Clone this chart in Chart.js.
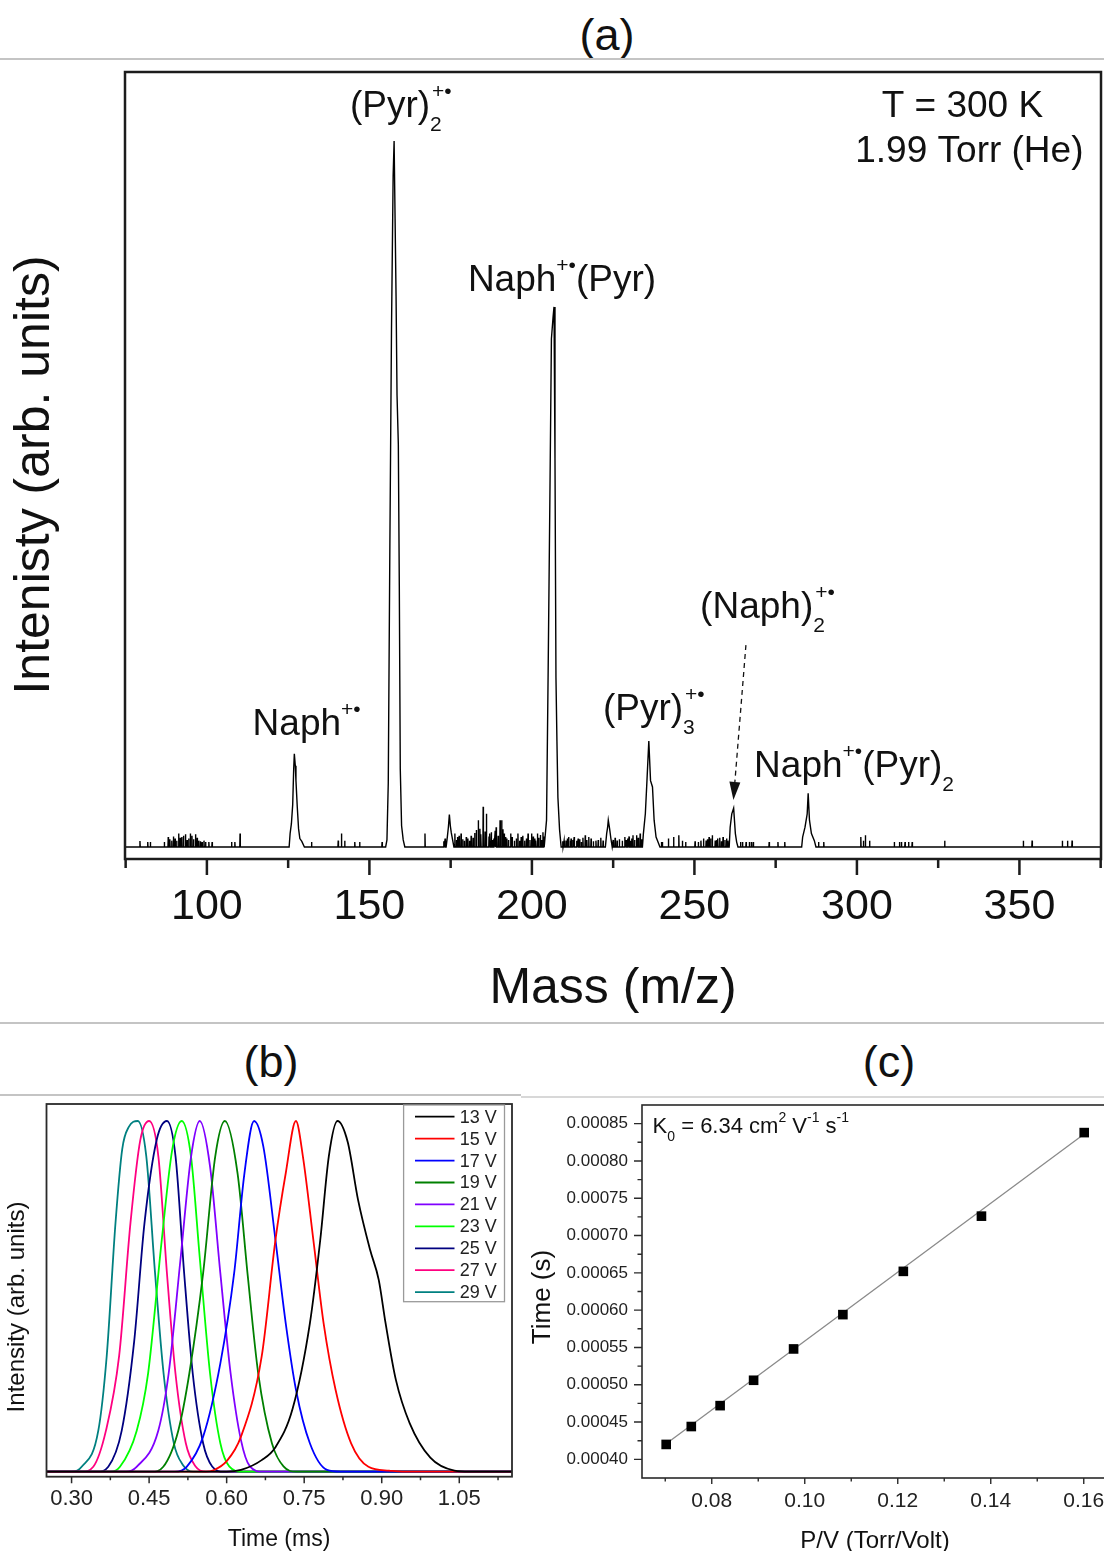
<!DOCTYPE html>
<html><head><meta charset="utf-8">
<script src="https://cdn.jsdelivr.net/npm/chart.js@4.4.0/dist/chart.umd.min.js"></script>
<style>
html,body{margin:0;padding:0;background:#fff;width:1104px;height:1551px;overflow:hidden;position:relative}
.t{position:absolute;font-family:"Liberation Sans",Arial,sans-serif;font-size:45px;line-height:45px;color:#111;transform:translateX(-50%);white-space:nowrap}
.sep{position:absolute;height:1.5px;background:#c4c4c4}
canvas{position:absolute;display:block}
</style></head><body>
<div class="t" style="left:607px;top:12px">(a)</div>
<div class="sep" style="left:0;top:58px;width:1104px"></div>
<div class="sep" style="left:0;top:1022px;width:1104px"></div>
<div class="t" style="left:271px;top:1039px">(b)</div>
<div class="t" style="left:889px;top:1039px">(c)</div>
<div class="sep" style="left:0;top:1094px;width:521px"></div>
<div class="sep" style="left:521px;top:1096px;width:583px;background:#d8d8d8"></div>
<canvas id="cA" width="1104" height="960" style="left:0;top:60px"></canvas>
<canvas id="cB" width="530" height="454" style="left:0;top:1097px"></canvas>
<canvas id="cC" width="590" height="454" style="left:530px;top:1097px"></canvas>
<script>
const FONT = '"Liberation Sans", Arial, sans-serif';
Chart.defaults.font.family = FONT;
Chart.defaults.color = '#111';

// ---------------- Panel (a): mass spectrum ----------------
const massTicks = [100, 150, 200, 250, 300, 350];
const massMinorTicks = [75, 125, 175, 225, 275, 325, 375];
const profileMass = [74.8,
  125.3,125.6,126.0,126.4,126.7,126.9,127.2,127.4,127.8,128.2,128.6,129.2,130.0,
  155.0,155.4,155.8,156.3,156.8,157.3,157.6,157.9,158.2,158.5,158.9,159.2,159.5,159.9,160.4,160.9,
  173.6,174.0,174.3,174.6,174.9,175.2,175.6,176.0,
  204.0,204.5,205.0,205.5,206.0,206.5,206.8,207.1,207.4,207.7,208.0,208.5,209.0,
  222.6,223.0,223.3,223.5,223.9,224.3,224.7,
  234.0,234.3,234.9,235.4,235.97,236.5,237.1,237.6,238.2,238.8,239.4,
  260.7,261.0,261.5,262.07,262.6,263.0,263.4,
  283.0,283.3,284.03,284.7,285.0,285.4,286.0,286.9,287.4,
  375.1];
const profileIntensity = [0,
  0,1.9,3.3,6.0,11.0,13.2,11.5,9.4,5.7,2.6,1.2,0.8,0,
  0,1.0,9.0,43,73.5,95,100,89,78,64,57,37,11,3,1,0,
  0,1.5,2.8,4.6,3.0,2.0,1.0,0,
  0,3.8,25,48,72,75,76.5,55,24,15,7,2.5,0,
  0,1.9,2.8,3.8,2.6,1.2,0,
  0,1.9,4.7,9.4,15.0,9.4,8.5,3.8,1.4,0.7,0,
  0,2.8,4.7,5.5,1.9,0.7,0,
  0,1.4,2.8,4.7,7.6,3.8,1.9,0.9,0,
  0];
const noiseMass = [79.4,81.8,82.6,86.9,88.1,88.6,89.2,89.7,90.2,90.7,91.3,91.8,92.3,92.8,93.4,93.9,94.4,94.9,
  95.4,95.9,96.5,97.0,97.5,98.0,98.5,99.1,99.6,100.6,101.6,
  107.6,108.6,110.2,132.2,140.4,141.4,142.4,145.5,147.0,153.9,167.1,
  172.9,173.3,176.3,176.8,177.1,177.6,178.2,178.7,179.2,179.8,180.3,180.8,181.3,181.9,182.4,182.9,183.5,
  184.0,184.3,185.0,185.6,186.0,186.8,187.1,187.5,187.9,188.3,188.7,189.0,189.6,190.2,190.7,191.1,191.5,
  191.9,192.3,192.8,193.5,193.9,194.6,195.2,195.7,196.2,196.7,197.2,197.8,198.3,198.8,199.4,199.9,200.4,
  200.9,201.2,201.7,202.1,202.6,203.0,203.4,203.7,
  209.5,209.9,210.5,210.9,211.3,211.8,212.06,212.6,213.0,213.8,214.24,214.7,215.2,215.7,216.4,216.9,
  217.5,218.2,218.9,219.7,220.4,221.2,221.9,
  225.0,225.6,226.2,226.9,227.8,228.6,229.0,229.5,229.9,230.3,230.7,231.1,231.6,232.2,232.7,233.3,233.7,
  239.8,240.1,242.0,243.6,245.2,246.3,247.3,250.2,251.2,252.0,252.8,253.6,254.0,254.5,255.0,255.5,256.4,
  256.9,257.2,257.8,258.3,258.8,259.4,259.9,260.3,
  264.2,264.8,265.9,266.9,267.5,268.1,273.0,275.7,277.8,288.2,289.8,301.2,302.0,302.6,303.9,
  311.5,313.1,313.7,314.8,315.9,317.0,327.0,351.2,353.9,363.2,364.8,366.2];
const noiseHeight = [0.85,0.7,0.7,0.7,1.4,1.1,0.9,1.5,1.2,0.9,1.9,1.3,1.4,1.6,1.8,1.0,1.2,1.9,
  1.6,1.1,1.8,1.3,0.9,0.8,0.7,0.9,0.7,0.7,0.7,
  0.7,0.7,1.9,0.7,0.9,1.9,0.9,0.7,0.7,0.7,1.9,
  0.8,1.2,1.9,1.0,1.4,1.6,1.9,1.1,0.9,1.4,1.2,0.9,1.6,1.3,2.0,2.4,3.8,
  2.6,1.8,5.7,2.2,4.7,1.5,1.9,2.1,1.0,1.2,2.3,2.8,1.6,3.8,3.8,2.5,1.9,
  1.4,1.2,1.0,1.9,1.4,0.9,1.2,1.9,0.9,1.4,1.6,0.9,1.2,1.9,1.0,1.9,1.5,
  1.2,0.9,1.9,1.3,1.7,1.0,2.1,1.5,
  0.8,0.9,0.9,1.2,1.4,0.9,1.2,1.0,1.4,0.9,1.2,1.1,0.7,1.3,1.65,1.0,
  1.4,1.2,0.8,0.9,1.0,1.3,0.9,
  1.0,1.3,0.9,1.1,0.9,1.4,1.0,1.2,1.5,0.9,1.2,1.65,1.0,1.65,1.3,1.9,1.1,
  0.7,0.7,1.2,1.4,1.65,0.9,0.7,0.8,0.7,0.9,1.2,0.9,1.1,1.4,1.2,1.65,0.9,
  1.0,1.2,1.3,0.8,1.4,1.0,1.2,0.9,
  0.7,0.7,0.7,0.7,0.7,0.7,0.7,0.7,0.7,0.7,0.7,1.4,0.9,1.65,0.9,
  0.7,0.7,0.7,0.7,0.7,0.7,0.9,0.9,0.9,0.9,0.9,0.9];

const peakLabels = [
  {m:144.0, i:103.4, parts:[{t:'(Pyr)'},{sub:'2',sup:'+•'}]},
  {m:180.3, i:78.7, parts:[{t:'Naph'},{sup:'+•'},{t:'(Pyr)'}]},
  {m:114.06, i:15.86, parts:[{t:'Naph'},{sup:'+•'}]},
  {m:221.85, i:18.0, parts:[{t:'(Pyr)'},{sub:'3',sup:'+•'}]},
  {m:251.75, i:32.4, parts:[{t:'(Naph)'},{sub:'2',sup:'+•'}]},
  {m:268.37, i:9.96, parts:[{t:'Naph'},{sup:'+•'},{t:'(Pyr)'},{sub:'2'}]}
];
const conditionLabels = [
  {m:332.46, i:103.4, text:'T = 300 K'},
  {m:334.6, i:97.07, text:'1.99 Torr (He)'}
];
const arrowFrom = [265.85, 28.6];
const arrowTo = [262.0, 6.66];

// ---------------- Panel (b): arrival time distributions ----------------
const voltages = [13, 15, 17, 19, 21, 23, 25, 27, 29];
const voltageColors = ['#000000','#ff0000','#0000ff','#008000','#8000ff','#00ff00','#000080','#ff0080','#008080'];
const timeTicks = [0.30, 0.45, 0.60, 0.75, 0.90, 1.05];
const timeMinorTicks = [0.375, 0.525, 0.675, 0.825, 0.975, 1.125];
const t13 = [0.2515,0.600,0.6277,0.6677,0.6944,0.7277,0.761,0.781,0.7977,0.8143,0.8342,0.8542,0.8776,0.8942,0.9075,0.9275,0.9542,0.994,1.0407,1.07,1.152];
const i13 = [0,0,0.005,0.033,0.07,0.18,0.423,0.66,0.90,1,0.94,0.775,0.632,0.547,0.423,0.261,0.138,0.04,0.003,0,0];
const t15 = [0.2515,0.56,0.5745,0.60,0.6277,0.6677,0.6944,0.7143,0.734,0.7476,0.7677,0.7876,0.8108,0.8408,0.8743,0.9141,0.94,1.152];
const i15 = [0,0,0.004,0.03,0.1,0.328,0.661,0.851,1,0.898,0.661,0.423,0.233,0.081,0.014,0.003,0,0];
const t17 = [0.2515,0.50,0.5226,0.5545,0.5878,0.6145,0.6344,0.653,0.671,0.6944,0.7143,0.7342,0.761,0.7942,0.82,1.152];
const i17 = [0,0,0.014,0.10,0.309,0.566,0.851,1,0.927,0.661,0.423,0.233,0.081,0.005,0,0];
const t19 = [0.2515,0.455,0.4774,0.5064,0.5278,0.5545,0.5778,0.5965,0.6211,0.641,0.6611,0.6876,0.71,0.735,1.152];
const i19 = [0,0,0.014,0.117,0.28,0.566,0.898,1,0.851,0.556,0.28,0.081,0.015,0,0];
const t21 = [0.2515,0.405,0.4258,0.4677,0.4878,0.5112,0.5311,0.548,0.5679,0.5878,0.6077,0.6277,0.645,0.67,1.152];
const i21 = [0,0,0.014,0.117,0.28,0.613,0.898,1,0.87,0.566,0.28,0.09,0.015,0,0];
const t23 = [0.2515,0.375,0.3936,0.426,0.448,0.4745,0.4946,0.513,0.5311,0.5478,0.5679,0.5878,0.605,0.63,1.152];
const i23 = [0,0,0.014,0.117,0.28,0.661,0.917,1,0.898,0.613,0.28,0.081,0.015,0,0];
const t25 = [0.2515,0.35,0.371,0.397,0.421,0.441,0.4646,0.4845,0.5012,0.5178,0.5344,0.5545,0.572,0.595,1.152];
const i25 = [0,0,0.014,0.117,0.37,0.708,0.946,1,0.898,0.566,0.28,0.081,0.015,0,0];
const t27 = [0.2515,0.32,0.342,0.3665,0.392,0.414,0.433,0.450,0.468,0.4845,0.501,0.521,0.54,0.56,1.152];
const i27 = [0,0,0.014,0.117,0.33,0.71,0.946,1,0.898,0.566,0.28,0.081,0.015,0,0];
const t29 = [0.2515,0.30,0.3195,0.3517,0.368,0.385,0.398,0.411,0.428,0.4445,0.4613,0.478,0.498,0.515,0.535,1.152];
const i29 = [0,0,0.014,0.117,0.33,0.71,0.92,0.984,1,0.90,0.57,0.28,0.08,0.02,0,0];

// ---------------- Panel (c): drift time vs P/V ----------------
const pvValues = [0.0702, 0.0756, 0.0818, 0.0890, 0.0976, 0.1082, 0.1212, 0.1380, 0.1601];
const driftTimes = [0.000420, 0.000444, 0.000472, 0.000506, 0.000548, 0.000594, 0.000652, 0.000726, 0.000838];
const fitPV = [0.0702, 0.1601];
const fitTime = [0.000421, 0.000836];
const pvTicks = [0.08, 0.10, 0.12, 0.14, 0.16];
const pvMinorTicks = [0.07, 0.09, 0.11, 0.13, 0.15];
const driftTicks = [0.0004,0.00045,0.0005,0.00055,0.0006,0.00065,0.0007,0.00075,0.0008,0.00085];
const driftMinorTicks = [0.000425,0.000475,0.000525,0.000575,0.000625,0.000675,0.000725,0.000775,0.000825];

// ---------------- helpers ----------------
function richWidth(ctx, parts, o) {
  let w = 0;
  for (const p of parts) {
    if (p.t !== undefined) { ctx.font = o.size + 'px ' + FONT; w += ctx.measureText(p.t).width; }
    else {
      ctx.font = o.small + 'px ' + FONT;
      const ws = p.sub ? ctx.measureText(p.sub).width : 0;
      const wp = p.sup ? ctx.measureText(p.sup).width + (p.sub ? o.supShift : 0) : 0;
      w += Math.max(ws, wp);
    }
  }
  return w;
}
function richText(ctx, x, y, parts, o) {
  let cx = o.align === 'center' ? x - richWidth(ctx, parts, o) / 2 : x;
  ctx.textAlign = 'left'; ctx.textBaseline = 'alphabetic';
  for (const p of parts) {
    if (p.t !== undefined) {
      ctx.font = o.size + 'px ' + FONT; ctx.fillText(p.t, cx, y); cx += ctx.measureText(p.t).width;
    } else {
      ctx.font = o.small + 'px ' + FONT;
      let w = 0;
      if (p.sub) { ctx.fillText(p.sub, cx, y + o.subDy); w = ctx.measureText(p.sub).width; }
      if (p.sup) { const sx = cx + (p.sub ? o.supShift : 0); ctx.fillText(p.sup, sx, y + o.supDy); w = Math.max(w, sx - cx + ctx.measureText(p.sup).width); }
      cx += w;
    }
  }
}
function tickMarks(ctx, scale, values, fixed, len, horizontal) {
  ctx.beginPath();
  values.forEach(v => {
    const p = scale.getPixelForValue(v);
    if (horizontal) { ctx.moveTo(p, fixed); ctx.lineTo(p, fixed + len); }
    else { ctx.moveTo(fixed, p); ctx.lineTo(fixed - len, p); }
  });
  ctx.stroke();
}
const pts = (xs, ys) => xs.map((v, k) => ({x: v, y: ys[k]}));
const noEdgePadding = s => { s.paddingTop = 0; s.paddingBottom = 0; s.paddingLeft = 0; s.paddingRight = 0; };

// ---------------- Chart (a) ----------------
const spectrum = pts(profileMass, profileIntensity);
noiseMass.forEach((m, k) => { spectrum.push({x: m - 0.08, y: 0}, {x: m, y: noiseHeight[k]}, {x: m + 0.08, y: 0}); });
spectrum.sort((p, q) => p.x - q.x);

const overlayA = {
  id: 'overlayA',
  afterDraw(chart) {
    const {ctx, chartArea: a, scales: {x, y}} = chart;
    ctx.save();
    ctx.strokeStyle = '#1c1c1c'; ctx.lineWidth = 2.5;
    ctx.strokeRect(a.left, a.top, a.right - a.left, a.bottom - a.top);
    tickMarks(ctx, x, massTicks, a.bottom, 16, true);
    tickMarks(ctx, x, massMinorTicks, a.bottom, 9, true);
    ctx.fillStyle = '#111';
    ctx.font = '50px ' + FONT; ctx.textAlign = 'center'; ctx.textBaseline = 'alphabetic';
    ctx.fillText('Mass (m/z)', (a.left + a.right) / 2, a.bottom + 144);
    ctx.save(); ctx.translate(35, 415); ctx.rotate(-Math.PI / 2); ctx.textBaseline = 'middle';
    ctx.fillText('Intenisty (arb. units)', 0, 0); ctx.restore();
    const o = {size: 37, small: 21, subDy: 14, supDy: -19, supShift: 2};
    peakLabels.forEach(l => richText(ctx, x.getPixelForValue(l.m), y.getPixelForValue(l.i), l.parts, o));
    ctx.font = '37px ' + FONT; ctx.textAlign = 'center'; ctx.textBaseline = 'alphabetic';
    conditionLabels.forEach(l => ctx.fillText(l.text, x.getPixelForValue(l.m), y.getPixelForValue(l.i)));
    // dashed arrow
    const x1 = x.getPixelForValue(arrowFrom[0]), y1 = y.getPixelForValue(arrowFrom[1]);
    const x2 = x.getPixelForValue(arrowTo[0]), y2 = y.getPixelForValue(arrowTo[1]);
    const ang = Math.atan2(y2 - y1, x2 - x1), hl = 18, hw = 5.5;
    const bx = x2 - hl * Math.cos(ang), by = y2 - hl * Math.sin(ang);
    ctx.strokeStyle = '#111'; ctx.lineWidth = 1.3; ctx.setLineDash([5, 4]);
    ctx.beginPath(); ctx.moveTo(x1, y1); ctx.lineTo(bx, by); ctx.stroke(); ctx.setLineDash([]);
    ctx.fillStyle = '#111'; ctx.beginPath(); ctx.moveTo(x2, y2);
    ctx.lineTo(bx + hw * Math.sin(ang), by - hw * Math.cos(ang));
    ctx.lineTo(bx - hw * Math.sin(ang), by + hw * Math.cos(ang)); ctx.closePath(); ctx.fill();
    ctx.restore();
  }
};

new Chart(document.getElementById('cA'), {
  type: 'line',
  data: {datasets: [{data: spectrum, borderColor: '#000', borderWidth: 1.4, pointRadius: 0, tension: 0, fill: false}]},
  options: {
    responsive: false, animation: false, events: [], devicePixelRatio: 1,
    layout: {padding: {top: 12, right: 3, left: 0, bottom: 0}},
    plugins: {legend: {display: false}, tooltip: {enabled: false}},
    scales: {
      x: {type: 'linear', min: 74.8, max: 375.1,
        grid: {display: false, drawTicks: false}, border: {display: false},
        afterBuildTicks: s => { s.ticks = massTicks.map(v => ({value: v})); },
        ticks: {font: {size: 43}, color: '#111', padding: 22, maxRotation: 0, autoSkip: false},
        afterFit: s => { s.height = 161; noEdgePadding(s); }},
      y: {type: 'linear', min: -1.70, max: 109.77,
        grid: {display: false, drawTicks: false}, border: {display: false}, ticks: {display: false},
        afterFit: s => { s.width = 125; noEdgePadding(s); }}
    }
  },
  plugins: [overlayA]
});

// ---------------- Chart (b) ----------------
const timeSeries = [[t13,i13],[t15,i15],[t17,i17],[t19,i19],[t21,i21],[t23,i23],[t25,i25],[t27,i27],[t29,i29]];
const overlayB = {
  id: 'overlayB',
  afterDraw(chart) {
    const {ctx, chartArea: a, scales: {x}} = chart;
    ctx.save();
    ctx.strokeStyle = '#2a2a2a'; ctx.lineWidth = 1.8;
    ctx.strokeRect(a.left, a.top, a.right - a.left, a.bottom - a.top);
    ctx.lineWidth = 1.5;
    tickMarks(ctx, x, timeTicks, a.bottom, 6.5, true);
    tickMarks(ctx, x, timeMinorTicks, a.bottom, 3.5, true);
    // legend
    ctx.strokeStyle = '#9a9a9a'; ctx.lineWidth = 1.3;
    ctx.strokeRect(a.right - 108.4, a.top + 1, 100.9, 196.7);
    ctx.font = '18px ' + FONT; ctx.textAlign = 'left'; ctx.textBaseline = 'middle';
    chart.data.datasets.forEach((d, k) => {
      const yy = a.top + 12.7 + k * 21.93;
      ctx.strokeStyle = d.borderColor; ctx.lineWidth = 1.8;
      ctx.beginPath(); ctx.moveTo(a.right - 97, yy); ctx.lineTo(a.right - 57.5, yy); ctx.stroke();
      ctx.fillStyle = '#222'; ctx.fillText(d.label, a.right - 52.3, yy + 1);
    });
    ctx.fillStyle = '#111'; ctx.textAlign = 'center'; ctx.textBaseline = 'alphabetic';
    ctx.font = '23px ' + FONT; ctx.fillText('Time (ms)', 279, 449);
    ctx.save(); ctx.translate(17, 210); ctx.rotate(-Math.PI / 2); ctx.textBaseline = 'middle';
    ctx.font = '24px ' + FONT; ctx.fillText('Intensity (arb. units)', 0, 0); ctx.restore();
    ctx.restore();
  }
};
new Chart(document.getElementById('cB'), {
  type: 'line',
  data: {datasets: voltages.map((v, k) => ({
    label: v + ' V', data: pts(timeSeries[k][0], timeSeries[k][1]),
    borderColor: voltageColors[k], borderWidth: 1.8, pointRadius: 0,
    cubicInterpolationMode: 'monotone', fill: false}))},
  options: {
    responsive: false, animation: false, events: [], devicePixelRatio: 1,
    layout: {padding: {top: 7, right: 18, left: 0, bottom: 0}},
    plugins: {legend: {display: false}, tooltip: {enabled: false}},
    scales: {
      x: {type: 'linear', min: 0.2515, max: 1.152,
        grid: {display: false, drawTicks: false}, border: {display: false},
        afterBuildTicks: s => { s.ticks = timeTicks.map(v => ({value: v})); },
        ticks: {font: {size: 22}, color: '#222', padding: 9, maxRotation: 0, autoSkip: false, callback: v => Number(v).toFixed(2)},
        afterFit: s => { s.height = 74.3; noEdgePadding(s); }},
      y: {type: 'linear', min: -0.01426, max: 1.0485,
        grid: {display: false, drawTicks: false}, border: {display: false}, ticks: {display: false},
        afterFit: s => { s.width = 46.5; noEdgePadding(s); }}
    }
  },
  plugins: [overlayB]
});

// ---------------- Chart (c) ----------------
const overlayC = {
  id: 'overlayC',
  afterDraw(chart) {
    const {ctx, chartArea: a, scales: {x, y}} = chart;
    ctx.save();
    ctx.strokeStyle = '#2a2a2a'; ctx.lineWidth = 1.6;
    ctx.strokeRect(a.left, a.top, a.right - a.left, a.bottom - a.top);
    ctx.lineWidth = 1.4;
    tickMarks(ctx, x, pvTicks, a.bottom, 6, true);
    tickMarks(ctx, x, pvMinorTicks, a.bottom, 3.5, true);
    tickMarks(ctx, y, driftTicks, a.left, 8, false);
    tickMarks(ctx, y, driftMinorTicks, a.left, 4.5, false);
    ctx.fillStyle = '#111';
    richText(ctx, x.getPixelForValue(0.06728), y.getPixelForValue(0.000837),
      [{t:'K'},{sub:'0'},{t:' = 6.34 cm'},{sup:'2'},{t:' V'},{sup:'-1'},{t:' s'},{sup:'-1'}],
      {size: 22, small: 14, subDy: 8, supDy: -11, supShift: 0});
    ctx.textAlign = 'center'; ctx.textBaseline = 'alphabetic';
    ctx.font = '24px ' + FONT; ctx.fillText('P/V (Torr/Volt)', 345, 451);
    ctx.save(); ctx.translate(13, 200); ctx.rotate(-Math.PI / 2); ctx.textBaseline = 'middle';
    ctx.font = '26px ' + FONT; ctx.fillText('Time (s)', 0, 0); ctx.restore();
    ctx.restore();
  }
};
new Chart(document.getElementById('cC'), {
  type: 'scatter',
  data: {datasets: [
    {label: 'Drift time', data: pts(pvValues, driftTimes), pointStyle: 'rect', pointRadius: 6.8,
     backgroundColor: '#000', borderColor: '#000', borderWidth: 0, showLine: false},
    {label: 'Linear fit', data: pts(fitPV, fitTime), showLine: true, borderColor: '#8a8a8a',
     borderWidth: 1.3, pointRadius: 0, fill: false}
  ]},
  options: {
    responsive: false, animation: false, events: [], devicePixelRatio: 1,
    layout: {padding: {top: 8, right: 13, left: 0, bottom: 0}},
    plugins: {legend: {display: false}, tooltip: {enabled: false}},
    scales: {
      x: {type: 'linear', min: 0.065, max: 0.165,
        grid: {display: false, drawTicks: false}, border: {display: false},
        afterBuildTicks: s => { s.ticks = pvTicks.map(v => ({value: v})); },
        ticks: {font: {size: 21}, color: '#222', padding: 11, maxRotation: 0, autoSkip: false, callback: v => Number(v).toFixed(2)},
        afterFit: s => { s.height = 73; noEdgePadding(s); }},
      y: {type: 'linear', min: 0.000375, max: 0.000875,
        grid: {display: false, drawTicks: false}, border: {display: false},
        afterBuildTicks: s => { s.ticks = driftTicks.map(v => ({value: v})); },
        ticks: {font: {size: 17}, color: '#222', padding: 14, autoSkip: false, callback: v => Number(v).toFixed(5)},
        afterFit: s => { s.width = 112; noEdgePadding(s); }}
    }
  },
  plugins: [overlayC]
});
</script>
</body></html>
